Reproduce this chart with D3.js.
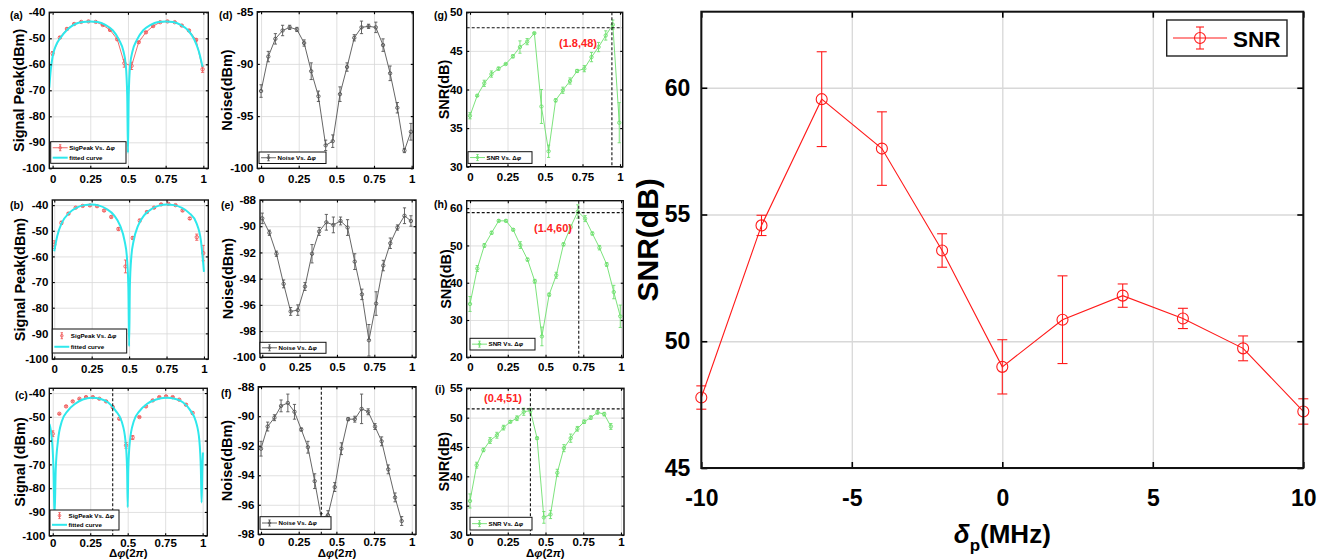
<!DOCTYPE html>
<html>
<head>
<meta charset="utf-8">
<script src="https://cdn.jsdelivr.net/npm/d3@7/dist/d3.min.js"></script>
<style>
body { margin: 0; background: #fff; }
svg { display: block; font-family: "Liberation Sans", Arial, Helvetica, sans-serif; font-weight: bold; }
</style>
</head>
<body>
<svg id="fig" width="1327" height="559"></svg>
<script>
// ---- data ----

// phase difference (units of 2*pi) for the first two rows and for the last row
var phaseAB = [0, 0.048, 0.095, 0.143, 0.190, 0.238, 0.286, 0.333, 0.381, 0.429, 0.476,
               0.524, 0.571, 0.619, 0.667, 0.714, 0.762, 0.810, 0.857, 0.905, 0.952, 0.995];
var phaseC = [0, 0.044, 0.089, 0.133, 0.178, 0.222, 0.267, 0.311, 0.356, 0.400, 0.444,
              0.489, 0.533, 0.578, 0.622, 0.667, 0.711, 0.756, 0.800, 0.844, 0.889, 0.933];

// signal peak (dBm)
var sigA = [-55.8, -49.7, -46.4, -44.5, -43.7, -43.5, -43.7, -44.9, -46.8, -50.4, -59.6,
            -60.6, -51.5, -47.7, -45.3, -43.8, -43.5, -43.8, -45.1, -47.0, -50.6, -61.9];
var sigAErr = [0.7, 0.4, 0.4, 0.3, 0.2, 0.2, 0.2, 0.2, 0.3, 0.3, 1.5, 1.4, 0.3, 0.3, 0.3, 0.2, 0.2, 0.2, 0.3, 0.3, 0.4, 1.2];
var sigB = [-55.4, -46.9, -43.3, -41.0, -40.3, -40.1, -40.4, -42.1, -44.6, -49.3, -63.9,
            -52.8, -46.0, -42.7, -41.0, -39.7, -39.5, -40.0, -42.1, -45.2, -52.5, -58.7];
var sigBErr = [1.5, 0.6, 0.4, 0.3, 0.3, 0.3, 0.3, 0.3, 0.4, 0.5, 2.5, 0.5, 0.5, 0.4, 0.3, 0.3, 0.3, 0.3, 0.3, 0.4, 1.2, 3.0];
var sigC = [-57.1, -48.7, -45.6, -43.5, -42.4, -41.7, -41.7, -42.4, -43.5, -45.9, -50.8,
            -62.0, -58.7, -50.1, -45.6, -43.1, -41.7, -41.4, -41.7, -42.8, -44.9, -48.4];
var sigCErr = [1.2, 0.3, 0.3, 0.3, 0.3, 0.3, 0.3, 0.3, 0.3, 0.4, 0.4, 1.2, 0.8, 0.3, 0.3, 0.3, 0.3, 0.3, 0.3, 0.3, 0.4, 0.5];

// fitted curves
var fitAx = [-0.022, -0.012, 0, 0.02, 0.05, 0.1, 0.15, 0.2, 0.25, 0.3, 0.35, 0.4, 0.44, 0.47, 0.485, 0.495, 0.5,
             0.505, 0.515, 0.53, 0.56, 0.6, 0.65, 0.7, 0.75, 0.8, 0.85, 0.9, 0.94, 0.97, 0.995];
var fitAy = [-69, -62, -57, -53, -50, -46.5, -44.5, -43.7, -43.5, -43.7, -44.8, -47, -50.5, -55, -60, -72, -94,
             -72, -60, -55, -50.5, -47, -44.8, -43.7, -43.5, -43.7, -44.8, -47, -50.5, -55, -61];
var fitBx = [0, 0.02, 0.05, 0.1, 0.15, 0.2, 0.25, 0.3, 0.35, 0.4, 0.44, 0.47, 0.485, 0.495, 0.5,
             0.505, 0.515, 0.53, 0.56, 0.6, 0.65, 0.7, 0.75, 0.8, 0.85, 0.9, 0.95, 0.98, 1.0];
var fitBy = [-58, -52, -47, -43, -41, -40, -39.8, -40.2, -41.5, -44, -48, -54, -60, -72, -95,
             -72, -60, -54, -48, -44, -41.5, -40.2, -39.8, -40, -41, -43, -47, -54, -66];
var fitCx = [-0.022, -0.005, 0.005, 0.012, 0.02, 0.035, 0.06, 0.1, 0.15, 0.2, 0.26, 0.32, 0.37, 0.42, 0.46, 0.485,
             0.496, 0.5, 0.504, 0.515, 0.54, 0.58, 0.63, 0.69, 0.755, 0.82, 0.87, 0.92, 0.955, 0.978, 0.988, 0.993, 0.998, 1.002];
var fitCy = [-53, -60, -72, -92, -72, -60, -52, -47.5, -44.5, -42.7, -42, -42.5, -44, -47.5, -52, -60,
             -72, -88, -72, -60, -52, -47.5, -44.5, -42.7, -42, -42.5, -44, -47.5, -52, -60, -72, -86, -72, -65];

// noise (dBm)
var noiseD = [-92.6, -89.3, -87.6, -86.8, -86.5, -86.7, -88.0, -90.7, -93.1, -97.8, -97.4,
              -92.9, -90.3, -87.5, -86.5, -86.4, -86.5, -88.2, -90.9, -94.2, -98.3, -96.5];
var noiseDErr = [0.6, 0.5, 0.5, 0.5, 0.2, 0.2, 0.3, 0.8, 0.5, 0.5, 0.6, 0.7, 0.4, 0.3, 0.6, 0.2, 0.5, 0.6, 0.7, 0.5, 0.2, 0.8];
var noiseE = [-89.4, -90.5, -92.1, -94.4, -96.5, -96.4, -94.6, -92.1, -90.4, -89.7, -89.9,
              -89.6, -90.1, -92.7, -95.2, -98.7, -95.9, -93.0, -91.3, -90.1, -89.2, -89.6];
var noiseEErr = [0.4, 0.2, 0.2, 0.3, 0.3, 0.4, 0.3, 0.7, 0.3, 0.6, 0.6, 0.3, 0.6, 0.6, 0.4, 1.2, 0.9, 0.4, 0.4, 0.2, 0.6, 0.4];
var noiseF = [-92.2, -90.7, -90.1, -89.3, -89.1, -89.7, -90.9, -92.1, -94.4, -96.9, -96.7,
              -94.8, -92.2, -90.2, -90.2, -89.5, -89.7, -90.7, -91.7, -93.6, -95.5, -97.1];
var noiseFErr = [0.5, 0.3, 0.2, 0.4, 0.6, 0.5, 0.1, 0.4, 0.5, 0.3, 0.3, 0.3, 0.4, 0.1, 0.2, 1.0, 0.2, 0.2, 0.3, 0.3, 0.3, 0.3];

// SNR (dB)
var snrG = [36.6, 39.2, 40.8, 42.0, 42.7, 43.3, 44.3, 45.5, 46.2, 47.3, 37.8,
            32.0, 38.6, 39.9, 41.1, 42.4, 42.7, 44.2, 45.5, 47.0, 48.4, 35.7];
var snrGErr = [0.4, 0.1, 0.4, 0.4, 0.2, 0.1, 0.2, 0.8, 0.4, 0.1, 2.2, 0.8, 0.2, 0.4, 0.4, 0.2, 0.4, 0.6, 0.6, 0.6, 0.6, 2.6];
var snrH = [34.3, 43.8, 50.0, 53.4, 56.6, 56.6, 54.2, 50.1, 46.2, 40.4, 25.6,
            36.8, 42.0, 50.3, 55.0, 59.1, 57.2, 53.2, 49.4, 44.9, 37.5, 31.0];
var snrHErr = [2.0, 0.8, 0.5, 0.4, 0.3, 0.3, 0.3, 0.9, 0.4, 0.5, 2.5, 0.4, 0.8, 0.4, 0.5, 1.8, 0.8, 0.4, 0.6, 0.5, 1.8, 3.0];
var snrI = [35.8, 41.9, 44.5, 46.1, 47.0, 48.3, 49.3, 49.9, 51.0, 51.2, 46.5,
            33.0, 33.5, 40.6, 44.8, 46.5, 48.1, 49.3, 50.0, 50.9, 50.6, 48.5];
var snrIErr = [1.2, 0.5, 0.3, 0.5, 0.5, 0.4, 0.2, 0.4, 0.6, 0.4, 0.2, 1.0, 0.7, 0.6, 0.6, 0.7, 0.4, 0.3, 0.3, 0.3, 0.3, 0.5];

// big panel: SNR vs detuning
var detuning = [-10, -8, -6, -4, -2, 0, 2, 4, 6, 8, 10];
var snrMain = [47.78, 54.57, 59.55, 57.6, 53.58, 48.99, 50.85, 51.8, 50.9, 49.72, 47.23];
var snrMainErr = [0.46, 0.4, 1.87, 1.45, 0.66, 1.07, 1.73, 0.46, 0.4, 0.49, 0.5];

// tick labels
var phaseTicks = [0, 0.25, 0.5, 0.75, 1];
var detuningTicks = [-10, -5, 0, 5, 10];
var snrMainTicks = [45, 50, 55, 60];

var RED = '#ef5b5b', CYAN = '#2ee8ec', GRAY = '#555555', GREEN = '#6ee06e', NOTE = '#ff2222';

var svg = d3.select('#fig');

// series -> list of points
function points(xs, ys, err) {
    return xs.map(function(d, i) { return {x: d, y: ys[i], e: err ? err[i] : 0}; });
}

// Grid lines behind the data.
function drawFrame(g, x, y, b, o) {
    var w = b.r - b.l, h = b.b - b.t;

    g.append('g').attr('transform', 'translate(0,' + b.b + ')')
        .call(d3.axisBottom(x).tickValues(o.xTicks).tickSize(-h).tickFormat(''))
        .call(function(s) { s.select('.domain').remove(); })
        .selectAll('line').attr('stroke', '#d8d8d8').attr('stroke-width', o.grid);
    g.append('g').attr('transform', 'translate(' + b.l + ',0)')
        .call(d3.axisLeft(y).tickValues(o.yTicks).tickSize(-w).tickFormat(''))
        .call(function(s) { s.select('.domain').remove(); })
        .selectAll('line').attr('stroke', '#d8d8d8').attr('stroke-width', o.grid);
}

// Box, inward ticks on all four sides and tick labels (MATLAB style).
function drawAxes(g, x, y, b, o) {
    var axes = [
        {t: 'translate(0,' + b.b + ')', a: d3.axisBottom(x).tickValues(o.xTicks).tickPadding(o.xPad).tickFormat(String)},
        {t: 'translate(0,' + b.t + ')', a: d3.axisTop(x).tickValues(o.xTicks).tickFormat('')},
        {t: 'translate(' + b.l + ',0)', a: d3.axisLeft(y).tickValues(o.yTicks).tickPadding(o.yPad).tickFormat(String)},
        {t: 'translate(' + b.r + ',0)', a: d3.axisRight(y).tickValues(o.yTicks).tickFormat('')}
    ];
    axes.forEach(function(ax) {
        var s = g.append('g').attr('transform', ax.t)
            .call(ax.a.tickSizeInner(-o.tick).tickSizeOuter(0));
        s.select('.domain').remove();
        s.selectAll('line').attr('stroke', '#000').attr('stroke-width', o.frame * 0.8);
        s.selectAll('text').attr('fill', '#000')
            .style('font-family', '"Liberation Sans", Arial, sans-serif')
            .style('font-weight', 'bold').style('font-size', o.font + 'px');
    });
    g.append('rect')
        .attr('x', b.l).attr('y', b.t).attr('width', b.r - b.l).attr('height', b.b - b.t)
        .attr('fill', 'none').attr('stroke', '#111').attr('stroke-width', o.frame);
}

function drawErrSeries(g, x, y, pts, s) {
    if (s.line) {
        g.append('path').datum(pts)
            .attr('d', d3.line().x(function(d) { return x(d.x); }).y(function(d) { return y(d.y); }))
            .attr('fill', 'none').attr('stroke', s.color).attr('stroke-width', s.lw);
    }
    var eb = g.append('g').attr('stroke', s.color).attr('stroke-width', s.lw);
    pts.forEach(function(d) {
        var x0 = x(d.x), y1 = y(d.y - d.e), y2 = y(d.y + d.e);
        eb.append('line').attr('x1', x0).attr('x2', x0).attr('y1', y1).attr('y2', y2);
        eb.append('line').attr('x1', x0 - s.cap).attr('x2', x0 + s.cap).attr('y1', y1).attr('y2', y1);
        eb.append('line').attr('x1', x0 - s.cap).attr('x2', x0 + s.cap).attr('y1', y2).attr('y2', y2);
    });
    g.append('g').selectAll('circle').data(pts).join('circle')
        .attr('cx', function(d) { return x(d.x); })
        .attr('cy', function(d) { return y(d.y); })
        .attr('r', s.r)
        .attr('fill', 'none').attr('stroke', s.color).attr('stroke-width', s.lw);
}

// Small legend sample: errorbar marker, optionally with a line through it.
function legendMarker(g, x0, x1, yc, color, withLine, lw) {
    var xm = (x0 + x1) / 2;
    if (withLine) {
        g.append('line').attr('x1', x0).attr('x2', x1).attr('y1', yc).attr('y2', yc)
            .attr('stroke', color).attr('stroke-width', lw);
    }
    g.append('line').attr('x1', xm).attr('x2', xm).attr('y1', yc - 3).attr('y2', yc + 3)
        .attr('stroke', color).attr('stroke-width', lw);
    [yc - 3, yc + 3].forEach(function(yy) {
        g.append('line').attr('x1', xm - 1.2).attr('x2', xm + 1.2).attr('y1', yy).attr('y2', yy)
            .attr('stroke', color).attr('stroke-width', lw);
    });
    g.append('circle').attr('cx', xm).attr('cy', yc).attr('r', 1.3)
        .attr('fill', 'none').attr('stroke', color).attr('stroke-width', lw);
}

function legendText(g, tx, ty, label, phi) {
    var t = g.append('text').attr('x', tx).attr('y', ty).attr('font-size', 6.2).text(label);
    if (phi) t.append('tspan').attr('font-style', 'italic').text('\u03c6');
}

function drawSmallLegend(g, lg) {
    g.append('rect').attr('x', lg.x).attr('y', lg.y).attr('width', lg.w).attr('height', lg.h)
        .attr('fill', '#fff').attr('stroke', '#111').attr('stroke-width', 1);
    var rows = lg.entries.length;
    lg.entries.forEach(function(en, i) {
        var yc = lg.y + lg.h * (rows === 1 ? 0.5 : (i === 0 ? 0.28 : 0.74));
        var x0 = lg.x + 2, x1 = lg.x + 17;
        if (en.kind === 'fit') {
            g.append('line').attr('x1', x0).attr('x2', x1).attr('y1', yc).attr('y2', yc)
                .attr('stroke', en.color).attr('stroke-width', 2);
        } else {
            legendMarker(g, x0, x1, yc, en.color, en.kind === 'line', 0.9);
        }
        legendText(g, x1 + 1.5, yc + 2.2, en.label, en.phi);
    });
}

// ---- the nine small panels ----
var sigLegend = function(withLine) {
    return [{kind: withLine ? 'line' : 'marker', color: RED, label: 'SigPeak Vs. \u0394', phi: true},
            {kind: 'fit', color: CYAN, label: 'fitted curve'}];
};

var panels = [
    {box: {l: 49.3, r: 208.3, t: 12.3, b: 168.3}, xd: [-0.022, 1.033], yd: [-100, -40],
     yTicks: [-100, -90, -80, -70, -60, -50, -40], letter: '(a)', lxy: [10, 19],
     ylabel: 'Signal Peak(dBm)', ylx: 19, xPad: 6.5,
     data: points(phaseAB, sigA, sigAErr), color: RED, line: true,
     fit: points(fitAx, fitAy),
     legend: {x: 50.7, y: 141.7, w: 75.3, h: 21.6, entries: sigLegend(true)}},
    {box: {l: 52.3, r: 208.3, t: 200, b: 359}, xd: [-0.013, 1.029], yd: [-100, -38],
     yTicks: [-100, -90, -80, -70, -60, -50, -40], letter: '(b)', lxy: [10, 209],
     ylabel: 'Signal Peak(dBm)', ylx: 19.5, xPad: 6,
     data: points(phaseAB, sigB, sigBErr), color: RED, line: false,
     fit: points(fitBx, fitBy),
     legend: {x: 52.3, y: 329, w: 74.4, h: 24, entries: sigLegend(false)}},
    {box: {l: 49.3, r: 207.3, t: 388.3, b: 535.7}, xd: [-0.023, 1.031], yd: [-100, -38],
     yTicks: [-100, -90, -80, -70, -60, -50, -40], letter: '(c)', lxy: [15, 399],
     ylabel: 'Signal (dBm)', ylx: 20, xPad: 3, xlabel: true,
     data: points(phaseC, sigC, sigCErr), color: RED, line: false,
     fit: points(fitCx, fitCy), vline: 0.4,
     legend: {x: 50, y: 510, w: 69, h: 20, entries: sigLegend(false)}},
    {box: {l: 257.3, r: 413.3, t: 11.7, b: 168.3}, xd: [-0.025, 1.011], yd: [-100, -85],
     yTicks: [-100, -95, -90, -85], letter: '(d)', lxy: [219, 19],
     ylabel: 'Noise(dBm)', ylx: 227, xPad: 6.5,
     data: points(phaseAB, noiseD, noiseDErr), color: GRAY, line: true,
     legend: {x: 259, y: 152, w: 67, h: 11.5,
              entries: [{kind: 'line', color: GRAY, label: 'Noise Vs. \u0394', phi: true}]}},
    {box: {l: 260, r: 416, t: 200, b: 357.3}, xd: [-0.015, 1.029], yd: [-100, -88],
     yTicks: [-100, -98, -96, -94, -92, -90, -88], letter: '(e)', lxy: [221, 209],
     ylabel: 'Noise(dBm)', ylx: 228, xPad: 6,
     data: points(phaseAB, noiseE, noiseEErr), color: GRAY, line: true,
     legend: {x: 260, y: 342.3, w: 66, h: 11,
              entries: [{kind: 'line', color: GRAY, label: 'Noise Vs. \u0394', phi: true}]}},
    {box: {l: 258.3, r: 416, t: 386.7, b: 534.3}, xd: [-0.018, 1.028], yd: [-98, -88],
     yTicks: [-98, -96, -94, -92, -90, -88], letter: '(f)', lxy: [221, 397],
     ylabel: 'Noise(dBm)', ylx: 226.5, xPad: 3.5, xlabel: true,
     data: points(phaseC, noiseF, noiseFErr), color: GRAY, line: true, vline: 0.4,
     legend: {x: 260, y: 516.7, w: 71, h: 12.6,
              entries: [{kind: 'line', color: GRAY, label: 'Noise Vs. \u0394', phi: true}]}},
    {box: {l: 466.7, r: 622.7, t: 12.3, b: 166.7}, xd: [-0.022, 1.018], yd: [30, 50],
     yTicks: [30, 35, 40, 45, 50], letter: '(g)', lxy: [434, 19],
     ylabel: 'SNR(dB)', ylx: 444, xPad: 6.5,
     data: points(phaseAB, snrG, snrGErr), color: GREEN, line: true,
     vline: 0.946, hline: 48, note: {text: '(1.8,48)', x: 578, y: 47},
     legend: {x: 468, y: 151.7, w: 64, h: 11.7,
              entries: [{kind: 'line', color: GREEN, label: 'SNR Vs. \u0394', phi: true}]}},
    {box: {l: 466.7, r: 623.3, t: 200.7, b: 357.3}, xd: [-0.022, 1.015], yd: [20, 62],
     yTicks: [20, 30, 40, 50, 60], letter: '(h)', lxy: [434, 208],
     ylabel: 'SNR(dB)', ylx: 446, xPad: 6,
     data: points(phaseAB, snrH, snrHErr), color: GREEN, line: true,
     vline: 0.72, hline: 58.8, note: {text: '(1.4,60)', x: 553, y: 232},
     legend: {x: 470, y: 338.3, w: 65, h: 11.7,
              entries: [{kind: 'line', color: GREEN, label: 'SNR Vs. \u0394', phi: true}]}},
    {box: {l: 466.7, r: 624, t: 388.3, b: 535}, xd: [-0.022, 1.02], yd: [30, 55],
     yTicks: [30, 35, 40, 45, 50, 55], letter: '(i)', lxy: [435, 393],
     ylabel: 'SNR(dB)', ylx: 444, xPad: 3, xlabel: true,
     data: points(phaseC, snrI, snrIErr), color: GREEN, line: true,
     vline: 0.4, hline: 51.5, note: {text: '(0.4,51)', x: 503, y: 402},
     legend: {x: 470, y: 517.3, w: 62, h: 12.7,
              entries: [{kind: 'line', color: GREEN, label: 'SNR Vs. \u0394', phi: true}]}}
];

var defs = svg.append('defs');

panels.forEach(function(p, idx) {
    var b = p.box;
    var x = d3.scaleLinear().domain(p.xd).range([b.l, b.r]);
    var y = d3.scaleLinear().domain(p.yd).range([b.b, b.t]);
    var opt = {xTicks: phaseTicks, yTicks: p.yTicks, grid: 0.8, frame: 1.4, tick: 2.5,
               xPad: p.xPad, yPad: 4, font: 11.5};
    var g = svg.append('g');
    var clipId = 'clip' + idx;
    defs.append('clipPath').attr('id', clipId).append('rect')
        .attr('x', b.l).attr('y', b.t).attr('width', b.r - b.l).attr('height', b.b - b.t);

    drawFrame(g, x, y, b, opt);

    var plot = g.append('g').attr('clip-path', 'url(#' + clipId + ')');
    drawErrSeries(plot, x, y, p.data, {color: p.color, line: p.line, lw: 0.9, r: 1.7, cap: 1.6});
    if (p.fit) {
        plot.append('path').datum(p.fit)
            .attr('d', d3.line().curve(d3.curveMonotoneX)
                .x(function(d) { return x(d.x); }).y(function(d) { return y(d.y); }))
            .attr('fill', 'none').attr('stroke', CYAN).attr('stroke-width', 2);
    }
    if (p.hline !== undefined) {
        plot.append('line').attr('x1', b.l).attr('x2', b.r).attr('y1', y(p.hline)).attr('y2', y(p.hline))
            .attr('stroke', '#111').attr('stroke-width', 1.1).attr('stroke-dasharray', '3,2');
    }
    if (p.vline !== undefined) {
        plot.append('line').attr('x1', x(p.vline)).attr('x2', x(p.vline)).attr('y1', b.t).attr('y2', b.b)
            .attr('stroke', '#111').attr('stroke-width', 1.1).attr('stroke-dasharray', '3,2');
    }
    if (p.note) {
        g.append('text').attr('x', p.note.x).attr('y', p.note.y).attr('text-anchor', 'middle')
            .attr('font-size', 11).attr('fill', NOTE).text(p.note.text);
    }

    drawAxes(g, x, y, b, opt);
    drawSmallLegend(g, p.legend);

    g.append('text').attr('x', p.lxy[0]).attr('y', p.lxy[1]).attr('font-size', 10.5).text(p.letter);
    g.append('text')
        .attr('transform', 'translate(' + p.ylx + ',' + ((b.t + b.b) / 2) + ') rotate(-90)')
        .attr('text-anchor', 'middle').attr('dy', '0.36em').attr('font-size', 14.5)
        .text(p.ylabel);
    if (p.xlabel) {
        var xl = g.append('text').attr('x', (b.l + b.r) / 2).attr('y', 556.5)
            .attr('text-anchor', 'middle').attr('font-size', 11.5);
        xl.append('tspan').text('\u0394');
        xl.append('tspan').attr('font-style', 'italic').text('\u03c6');
        xl.append('tspan').text('(2');
        xl.append('tspan').attr('font-style', 'italic').text('\u03c0');
        xl.append('tspan').text(')');
    }
});

// ---- big panel: SNR vs detuning ----
(function() {
    var b = {l: 701.3, r: 1303.3, t: 11.7, b: 468};
    var x = d3.scaleLinear().domain([-10, 10]).range([b.l, b.r]);
    var y = d3.scaleLinear().domain([45, 63]).range([b.b, b.t]);
    var opt = {xTicks: detuningTicks, yTicks: snrMainTicks, grid: 1.3, frame: 2, tick: 6,
               xPad: 22, yPad: 11, font: 23};
    var g = svg.append('g');

    drawFrame(g, x, y, b, opt);
    drawErrSeries(g, x, y, points(detuning, snrMain, snrMainErr),
        {color: '#ff1a1a', line: true, lw: 1.1, r: 5.5, cap: 5});
    drawAxes(g, x, y, b, opt);

    // legend
    var lg = g.append('g');
    lg.append('rect').attr('x', 1166.7).attr('y', 20).attr('width', 120.3).attr('height', 36)
        .attr('fill', '#fff').attr('stroke', '#222').attr('stroke-width', 1.4);
    lg.append('line').attr('x1', 1173).attr('x2', 1227).attr('y1', 38).attr('y2', 38)
        .attr('stroke', '#ff1a1a').attr('stroke-width', 1.1);
    lg.append('line').attr('x1', 1200).attr('x2', 1200).attr('y1', 27).attr('y2', 49)
        .attr('stroke', '#ff1a1a').attr('stroke-width', 1.1);
    [27, 49].forEach(function(yy) {
        lg.append('line').attr('x1', 1196).attr('x2', 1204).attr('y1', yy).attr('y2', yy)
            .attr('stroke', '#ff1a1a').attr('stroke-width', 1.1);
    });
    lg.append('circle').attr('cx', 1200).attr('cy', 38).attr('r', 5.5)
        .attr('fill', 'none').attr('stroke', '#ff1a1a').attr('stroke-width', 1.1);
    lg.append('text').attr('x', 1233).attr('y', 46.5).attr('font-size', 22.5).text('SNR');

    // axis labels
    g.append('text')
        .attr('transform', 'translate(647,' + ((b.t + b.b) / 2) + ') rotate(-90)')
        .attr('text-anchor', 'middle').attr('dy', '0.36em').attr('font-size', 30)
        .text('SNR(dB)');
    var xl = g.append('text').attr('x', (b.l + b.r) / 2).attr('y', 543)
        .attr('text-anchor', 'middle').attr('font-size', 26);
    xl.append('tspan').attr('font-style', 'italic').text('\u03b4');
    xl.append('tspan').attr('font-size', 17).attr('dy', 8).text('p');
    xl.append('tspan').attr('dy', -8).text('(MHz)');
})();
</script>
</body>
</html>
